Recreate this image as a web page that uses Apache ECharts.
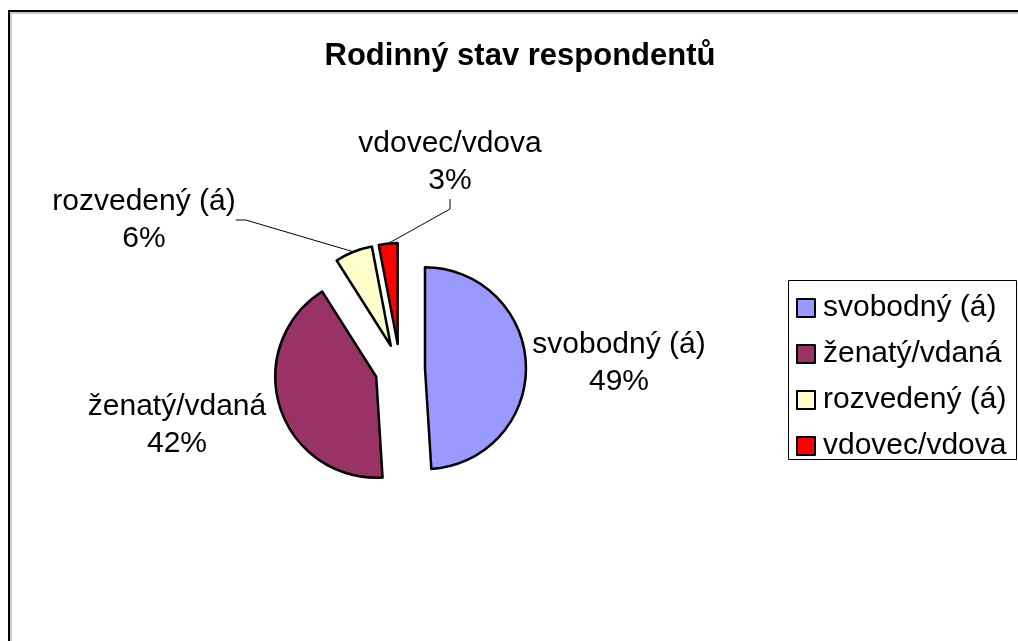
<!DOCTYPE html>
<html>
<head>
<meta charset="utf-8">
<script src="https://cdn.jsdelivr.net/npm/echarts@6/dist/echarts.min.js"></script>
<style>
html,body{margin:0;padding:0;background:#fff;}
#c{width:1018px;height:641px;}
</style>
</head>
<body>
<div id="c"></div>
<script>
var categories = ['svobodný (á)', 'ženatý/vdaná', 'rozvedený (á)', 'vdovec/vdova'];
var values = [49, 42, 6, 3];
var colors = ['#9999FF', '#993366', '#FFFFCC', '#FF0000'];
var titleText = 'Rodinný stav respondentů';

var FONT = '"Liberation Sans", Arial, sans-serif';
// layout only
var pieCenter = [400, 369];
var pieRadius = 101;
var explode = 25;
var labelPos = [[619, 363], [177, 425], [144, 220], [450, 162]];
var showLine = [false, false, true, true];

var total = values.reduce(function (a, b) { return a + b; }, 0);

function makeSeries(k) {
  // angle of middle of slice k, clockwise from 12 o'clock
  var before = 0;
  for (var j = 0; j < k; j++) before += values[j];
  var mid = (before + values[k] / 2) / total * 2 * Math.PI;
  var cx = pieCenter[0] + explode * Math.sin(mid);
  var cy = pieCenter[1] - explode * Math.cos(mid);
  return {
    type: 'pie',
    name: 's' + k,
    center: [cx, cy],
    radius: pieRadius,
    startAngle: 90,
    clockwise: true,
    avoidLabelOverlap: false,
    silent: true,
    emphasis: {disabled: true},
    label: {
      show: true,
      position: 'outside',
      formatter: '{b}\n{d}%',
      fontFamily: FONT,
      fontSize: 30,
      lineHeight: 37,
      color: '#000',
      align: 'center'
    },
    labelLine: {show: true, length: 10, length2: 10, lineStyle: {color: '#000', width: 1}},
    labelLayout: function (p) {
      var pos = labelPos[p.dataIndex];
      return {x: pos[0], y: pos[1], align: 'center', verticalAlign: 'middle'};
    },
    data: categories.map(function (c, i) {
      var on = i === k;
      return {
        name: c,
        value: values[i],
        itemStyle: on ? {color: colors[i], borderColor: '#000', borderWidth: 2.5}
                      : {color: 'rgba(0,0,0,0)', borderWidth: 0},
        label: {show: on},
        labelLine: {show: on && showLine[i]}
      };
    })
  };
}

var chart = echarts.init(document.getElementById('c'), null, {renderer: 'canvas'});
chart.setOption({
  animation: false,
  backgroundColor: '#fff',
  title: {
    text: titleText,
    left: 515,
    top: 36,
    textAlign: 'center',
    textStyle: {fontFamily: FONT, fontSize: 31, fontWeight: 'bold', color: '#000'}
  },
  legend: {
    orient: 'vertical',
    left: 796,
    top: 293,
    padding: 0,
    itemWidth: 18,
    itemHeight: 18,
    itemGap: 16,
    icon: 'rect',
    selectedMode: false,
    textStyle: {fontFamily: FONT, fontSize: 30, color: '#000', lineHeight: 30, padding: [0, 0, 0, 3]},
    data: categories.map(function (c, i) {
      return {name: c, itemStyle: {color: colors[i], opacity: 1, borderColor: '#000', borderWidth: 2}};
    })
  },
  graphic: [
    {type: 'rect', shape: {x: 9, y: 11, width: 1200, height: 1000}, style: {fill: 'none', stroke: '#000', lineWidth: 2}, silent: true, z: 0},
    {type: 'rect', shape: {x: 11, y: 13, width: 1200, height: 1000}, style: {fill: 'none', stroke: '#999', lineWidth: 1}, silent: true, z: 0},
    {type: 'rect', shape: {x: 788.5, y: 280.5, width: 228, height: 179}, style: {fill: 'none', stroke: '#000', lineWidth: 1}, silent: true, z: 0}
  ],
  series: categories.map(function (c, k) { return makeSeries(k); })
});
</script>
</body>
</html>
